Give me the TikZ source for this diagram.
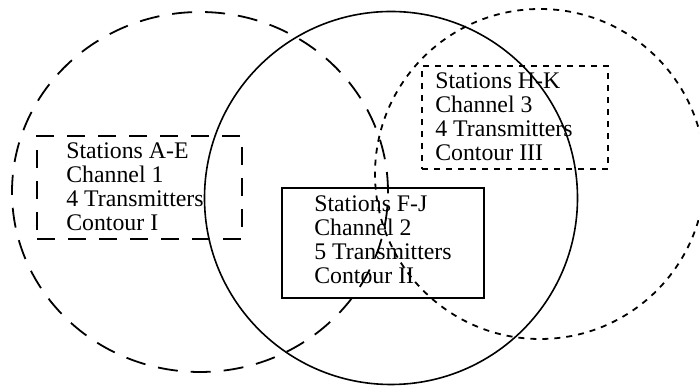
\documentclass[tikz,border=0pt]{standalone}
\usepackage{fontspec}
\setmainfont{Liberation Serif}
\begin{document}
\begin{tikzpicture}[x=1pt,y=1pt,
  lab/.style={align=left, inner sep=0pt, anchor=west, font=\fontsize{23.8}{24}\selectfont},
  boxshape/.style={draw, line width=1.8pt, inner sep=0pt, fill=none},
  longdash/.style={line width=1.8pt, dash pattern=on 20pt off 13pt},
  shortdash/.style={line width=1.8pt, dash pattern=on 6pt off 6pt},
  solidline/.style={line width=1.6pt}]
\clip (0,0) rectangle (699,387);
\fill[white] (0,0) rectangle (699,387);
% coverage contours
\draw[longdash] (200,195) ellipse [x radius=188, y radius=180];
\draw[solidline] (391,189) circle [radius=186.5];
\draw[shortdash] (540,213) circle [radius=165];
% station boxes
\node[boxshape, longdash, dash pattern=on 18pt off 13pt, minimum width=205pt, minimum height=103pt] (boxA) at (139.5,199.5) {};
\node[boxshape, minimum width=202pt, minimum height=110pt] (boxB) at (383,144) {};
\node[boxshape, shortdash, minimum width=186pt, minimum height=103pt] (boxC) at (515,269.5) {};
\node[lab] (txtA) at ([xshift=30pt,yshift=1pt]boxA.west) {Stations A-E\\Channel 1\\4 Transmitters\\Contour I};
\node[lab] (txtB) at ([xshift=33pt,yshift=3pt]boxB.west) {Stations F-J\\Channel 2\\5 Transmitters\\Contour II};
\node[lab] (txtC) at ([xshift=14pt,yshift=1pt]boxC.west) {Stations H-K\\Channel 3\\4 Transmitters\\Contour III};
\end{tikzpicture}
\end{document}
